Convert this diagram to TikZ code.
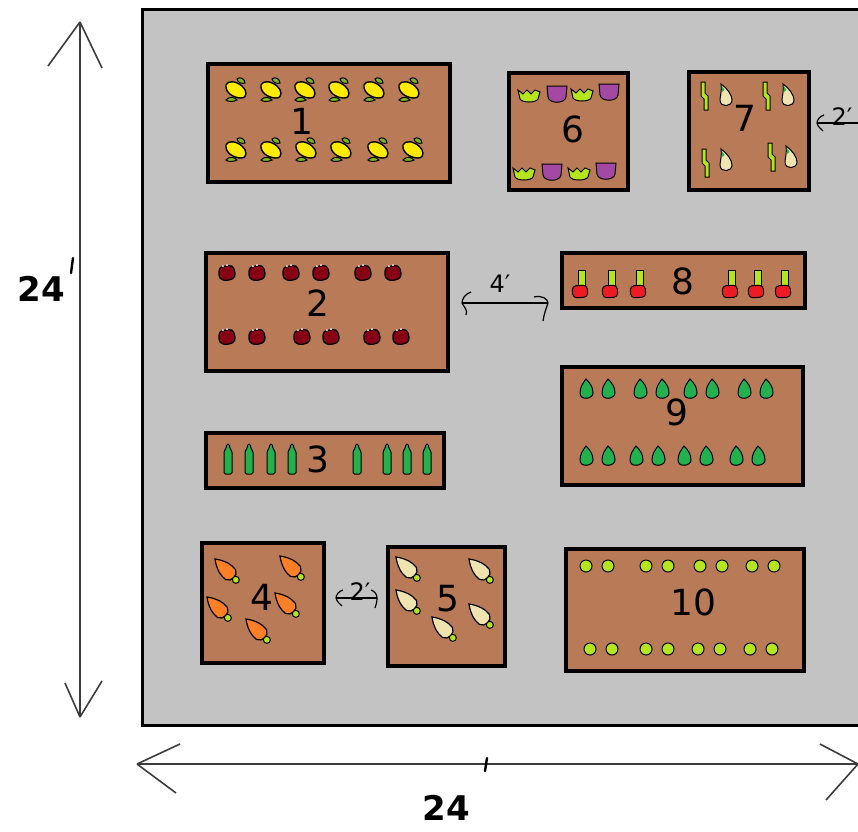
\documentclass[tikz,border=0pt]{standalone}
\usepackage{fontspec}
\setmainfont{DejaVu Sans}
\definecolor{soil}{HTML}{B97A57}
\definecolor{yard}{HTML}{C3C3C3}
\definecolor{sqyellow}{HTML}{FFEA00}
\definecolor{sqgreen}{HTML}{7DB51F}
\definecolor{lime}{HTML}{B5E61D}
\definecolor{plum}{HTML}{A349A4}
\definecolor{beet}{HTML}{880015}
\definecolor{radred}{HTML}{ED1C24}
\definecolor{leafgreen}{HTML}{22B14C}
\definecolor{carrot}{HTML}{FF7F27}
\definecolor{cream}{HTML}{EFE4B0}
\definecolor{dimgray}{HTML}{3C3C3C}
\begin{document}
\begin{tikzpicture}[x=1pt,y=-1pt,
  bed/.style={draw=black,fill=soil,line width=3.5pt,inner sep=0pt},
  num/.style={font=\fontsize{36}{40}\selectfont,inner sep=0pt},
  dimtext/.style={font=\fontsize{24}{28}\selectfont,inner sep=0pt},
  bigtext/.style={font=\bfseries\fontsize{34}{38}\selectfont,inner sep=0pt},
  mainline/.style={draw=dimgray,line width=1.6pt},
  dimline/.style={draw=black,line width=1.2pt},
  outl/.style={draw=black,line width=1pt},
  squash/.pic={
    \filldraw[fill=sqgreen,outl] (1,-11) .. controls (4,-14) and (9,-11) .. (9,-7) .. controls (6,-6) and (2,-7) .. (1,-11) -- cycle;
    \filldraw[fill=sqgreen,outl] (-10,10) .. controls (-7,6) and (-1,7) .. (1,10) .. controls (-3,12) and (-8,12) .. (-10,10) -- cycle;
    \filldraw[fill=sqyellow,draw=black,line width=1.4pt] (-10,-5) .. controls (-8,-10) and (0,-9) .. (6,-4) .. controls (11,0) and (12,8) .. (5,8) .. controls (-2,8) and (-11,3) .. (-10,-5) -- cycle;
  },
  cup/.pic={
    \filldraw[fill=plum,outl] (-10,-9) -- (10,-9) -- (9,2) .. controls (8,9) and (-8,9) .. (-9,2) -- cycle;
  },
  crown/.pic={
    \filldraw[fill=lime,outl] (-11,-6) -- (-6,-2) -- (-2,-6) -- (2,-2) -- (6,-6) -- (11,-4) -- (9,3) .. controls (7,7) and (-7,7) .. (-9,3) -- cycle;
  },
  stalk/.pic={
    \filldraw[fill=lime,outl] (-3,-14) -- (1,-14) -- (1,-3) -- (4,0) -- (4,14) -- (0,14) -- (0,3) -- (-3,0) -- cycle;
  },
  bulb/.pic={
    \filldraw[fill=cream,outl] (-4,-12) .. controls (2,-8) and (7,-1) .. (7,4) .. controls (7,11) and (-5,12) .. (-5,4) .. controls (-5,0) and (-3,-4) .. (-4,-12) -- cycle;
    \fill[leafgreen] (-3.5,-10.5) -- (-0.5,-6) -- (-3,-4) -- cycle;
  },
  beetroot/.pic={
    \filldraw[fill=beet,draw=black,line width=1.3pt,rounded corners=4] (-8,-6) -- (6,-8) -- (9,4) -- (1,8) -- (-8,6) -- cycle;
    \fill[white] (-4,-7) circle (1) (0,-8) circle (1);
  },
  radish/.pic={
    \filldraw[fill=lime,outl] (-1.5,-22) rectangle (5,-5);
    \filldraw[fill=radred,outl,rounded corners=4] (-8,-6) -- (7,-7) -- (8,5) -- (-7,6) -- cycle;
  },
  leaf/.pic={
    \filldraw[fill=leafgreen,outl] (0,-11) .. controls (4,-7) and (7,-3) .. (7,3) .. controls (7,9) and (-6,11) .. (-6,3) .. controls (-6,-3) and (-3,-7) .. (0,-11) -- cycle;
  },
  bottle/.pic={
    \filldraw[fill=leafgreen,outl,rounded corners=1.5] (-1.5,-15) -- (1.5,-15) -- (1.5,-11) -- (4,-8) -- (4,15) -- (-4,15) -- (-4,-8) -- (-1.5,-11) -- cycle;
  },
  root/.pic={
    \begin{scope}[rotate=-45]
      \filldraw[fill=#1,draw=black,line width=1.2pt] (-17,0) .. controls (-9,-6) and (-1,-8) .. (5,-7) .. controls (11,-5) and (11,5) .. (5,7) .. controls (-1,8) and (-9,6) .. (-17,0) -- cycle;
      \filldraw[fill=lime,outl] (12.5,0) circle (3.5);
    \end{scope}
  },
  pea/.pic={
    \filldraw[fill=lime,outl] (0,0) circle (6);
  }
]
\useasboundingbox (0,0) rectangle (858,831);
\begin{scope}
\clip (0,0) rectangle (858,831);
\fill[white] (0,0) rectangle (858,831);

% the yard
\draw[fill=yard,line width=3pt] (142,9) rectangle (880,725);

% raised beds
\node[bed,minimum width=242,minimum height=118] (b1) at (329,123) {};
\node[bed,minimum width=119,minimum height=117] (b6) at (568.5,131.5) {};
\node[bed,minimum width=120,minimum height=118] (b7) at (749,131) {};
\node[bed,minimum width=242,minimum height=118] (b2) at (327,312) {};
\node[bed,minimum width=243,minimum height=55] (b8) at (683.5,280.5) {};
\node[bed,minimum width=241,minimum height=118] (b9) at (682.5,426) {};
\node[bed,minimum width=238,minimum height=55] (b3) at (325,460.5) {};
\node[bed,minimum width=122,minimum height=120] (b4) at (263,603) {};
\node[bed,minimum width=117,minimum height=119] (b5) at (446.5,606.5) {};
\node[bed,minimum width=238,minimum height=122] (b10) at (685,610) {};

% bed 1: squash
\foreach \x in {236,271,305,339,374,409} \pic at (\x,90) {squash};
\foreach \x in {236,271,306,341,378,413} \pic at (\x,150) {squash};

% bed 6: two kinds in alternation
\pic at (529,96) {crown}; \pic at (557,95) {cup};
\pic at (582,95) {crown}; \pic at (609,93) {cup};
\pic at (524,174) {crown}; \pic at (552,173) {cup};
\pic at (579,174) {crown}; \pic at (606,172) {cup};

% bed 7: leeks and onions
\pic at (704,96) {stalk}; \pic at (725,96) {bulb};
\pic at (766,96) {stalk}; \pic at (787,96) {bulb};
\pic at (705,163) {stalk}; \pic at (725,161) {bulb};
\pic at (771,157) {stalk}; \pic at (790,158) {bulb};

% bed 2: beets
\foreach \x in {227,257,291,321,363,393} \pic at (\x,273) {beetroot};
\foreach \x in {227,257,302,331,372,401} \pic at (\x,337) {beetroot};

% bed 8: radishes
\foreach \x in {580,610,638,730,756,783} \pic at (\x,292) {radish};

% bed 9: greens
\foreach \x in {586,608,640,662,690,712,744,766} \pic at (\x,390) {leaf};
\foreach \x in {586,608,636,658,684,706,736,758} \pic at (\x,457) {leaf};

% bed 3: bottles
\foreach \x in {228,249,271,292,357,387,407,427} \pic at (\x,459) {bottle};

% bed 4: carrots
\foreach \p in {(227,571),(292,568),(219,609),(287,605),(258,631)} \pic at \p {root=carrot};

% bed 5: parsnips
\foreach \p in {(408,569),(481,571),(408,602),(481,616),(444,629)} \pic at \p {root=cream};

% bed 10: peas
\foreach \x in {586,608,646,668,700,722,752,774} \pic at (\x,566) {pea};
\foreach \x in {590,612,646,668,698,720,750,772} \pic at (\x,649) {pea};

% bed numbers
\node[num] (n1) at (302,121) {1};
\node[num] (n6) at (573,129) {6};
\node[num] (n7) at (745,118) {7};
\node[num] (n2) at (318,303) {2};
\node[num] (n8) at (683,281) {8};
\node[num] (n9) at (677,412) {9};
\node[num] (n3) at (318,459) {3};
\node[num] (n4) at (262,597) {4};
\node[num] (n5) at (448,599) {5};
\node[num] (n10) at (693,602) {10};

% spacing between beds
\coordinate (s1a) at (462,303); \coordinate (s1b) at (548,303);
\draw[dimline] (s1a) -- (s1b);
\draw[dimline] (471,292) .. controls (465,294) and (462,299) .. (s1a) .. controls (464,307) and (468,310) .. (466,315);
\draw[dimline] (534,297) .. controls (542,295) and (548,299) .. (s1b) .. controls (546,309) and (544,314) .. (543,321);
\node[dimtext] (l4) at (500,284) {4′};

\coordinate (s2a) at (336,598); \coordinate (s2b) at (377,598);
\draw[dimline] (s2a) -- (s2b);
\draw[dimline] (343,590) .. controls (339,591) and (336,595) .. (s2a) .. controls (337,602) and (340,604) .. (342,606);
\draw[dimline] (371,590) .. controls (375,591) and (377,595) .. (s2b) .. controls (377,602) and (376,605) .. (375,608);
\node[dimtext] (l2) at (360,592) {2′};

\coordinate (s3a) at (817,123); \coordinate (s3b) at (860,123);
\draw[dimline] (s3a) -- (s3b);
\draw[dimline] (824,115) .. controls (820,116) and (817,120) .. (s3a) .. controls (818,127) and (821,129) .. (823,131);
\node[dimtext] (l3) at (842,117) {2′};

% overall size
\coordinate (vtop) at (80,22); \coordinate (vbot) at (80,717);
\draw[mainline] (vtop) -- (vbot);
\draw[mainline] (vtop) -- ++(-32,44);
\draw[mainline] (vtop) -- ++(22,46);
\draw[mainline] (vbot) -- ++(-15,-34);
\draw[mainline] (vbot) -- ++(22,-36);
\node[bigtext] (side) at (41,289) {24};
\draw[line width=2.4pt,line cap=round] (73,258) -- (71,273);

\coordinate (hl) at (137,764); \coordinate (hr) at (858,764);
\draw[mainline] (hl) -- (hr);
\draw[mainline] (hl) -- ++(43,-20);
\draw[mainline] (hl) -- ++(39,29);
\draw[mainline] (hr) -- ++(-38,-20);
\draw[mainline] (hr) -- ++(-32,36);
\node[bigtext] (base) at (446,808) {24};
\draw[line width=2.4pt,line cap=round] (487,758) -- (485,771);
\end{scope}
\end{tikzpicture}
\end{document}
